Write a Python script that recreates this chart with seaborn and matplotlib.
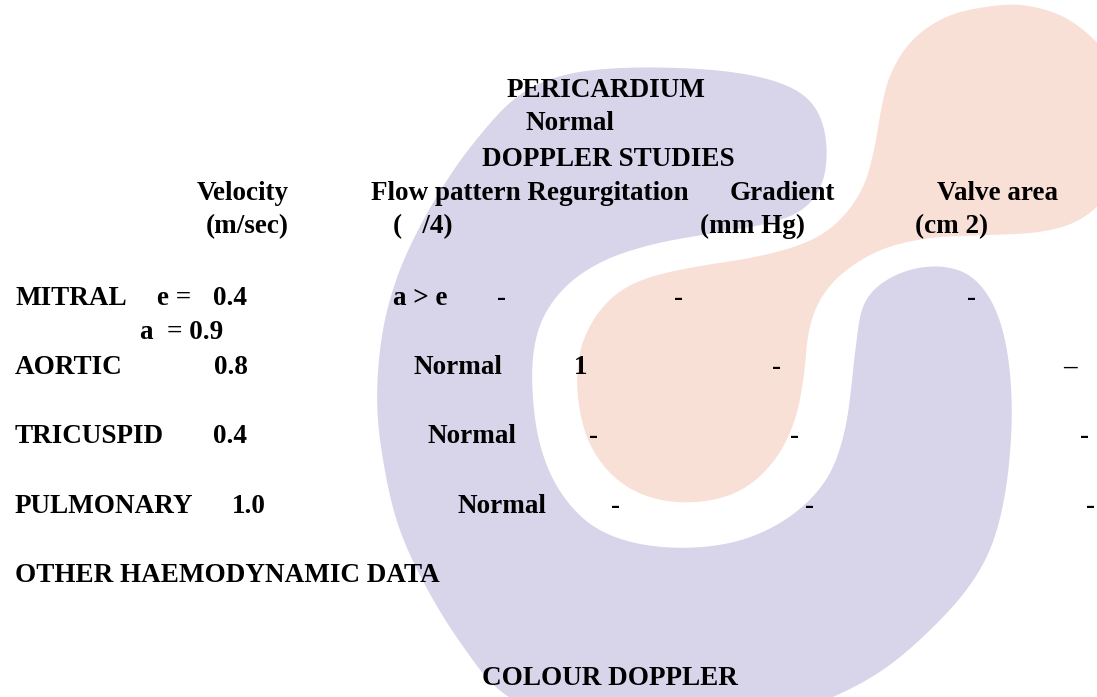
import numpy as np
import matplotlib
matplotlib.use("Agg")
import matplotlib.pyplot as plt
import seaborn as sns

# ---------------- data ----------------
headings = ["PERICARDIUM", "Normal", "DOPPLER STUDIES"]
col_headers = ["Velocity", "Flow pattern Regurgitation", "Gradient", "Valve area"]
col_units = ["(m/sec)", "(   /4)", "(mm Hg)", "(cm 2)"]
valves = ["MITRAL", "AORTIC", "TRICUSPID", "PULMONARY"]
velocity = ["0.4", "0.8", "0.4", "1.0"]
mitral_e_label = "e ="
mitral_a_line = "a  = 0.9"
flow_pattern = ["a > e", "Normal", "Normal", "Normal"]
regurgitation = ["-", "1", "-", "-"]
gradient = ["-", "-", "-", "-"]
valve_area = ["-", "\u2013", "-", "-"]
footer_sections = ["OTHER HAEMODYNAMIC DATA", "COLOUR DOPPLER"]

# ---------------- layout (pixels, y downward) ----------------
heading_xy = [(507, 97), (525, 130), (482, 166)]
header_xy = [(197, 200), (371, 200), (730, 200), (937, 200)]
unit_xy = [(206, 233), (393, 233), (700, 233), (915, 233)]
row_base = [305, 374, 443, 513]
valve_x = 15
velocity_x = [213, 214, 213, 232]
flow_x = [393, 414, 428, 458]
regurg_x = [497, 574, 589, 611]
gradient_x = [674, 772, 790, 805]
valve_area_x = [967, 1063, 1080, 1086]
e_label_x = 157
a_line_xy = (140, 339)
footer_xy = [(15, 582), (482, 685)]

# watermark outlines (decoration)
lavender_pts = [(933, 266), (967, 273), (990, 298), (1004, 335), (1011, 385), (1011, 440),
                (1004, 500), (990, 550), (965, 592), (925, 635), (880, 672), (826, 700),
                (760, 722), (660, 730), (570, 718), (505, 695), (462, 645), (425, 585),
                (398, 525), (383, 460), (377, 400), (382, 335), (396, 280), (417, 232),
                (442, 188), (472, 145), (515, 98), (560, 76), (620, 68), (700, 69),
                (760, 77), (800, 92), (820, 115), (827, 150), (822, 185), (803, 210),
                (770, 223), (733, 230), (690, 237), (650, 245), (605, 260), (568, 284),
                (543, 317), (533, 355), (533, 400), (540, 445), (557, 487), (588, 523),
                (630, 542), (683, 548), (735, 542), (777, 525), (810, 500), (832, 470),
                (845, 430), (851, 390), (856, 345), (865, 300), (895, 275)]
peach_pts = [(1000, 5), (950, 15), (912, 40), (890, 75), (881, 110), (874, 150),
             (862, 190), (835, 225), (800, 245), (750, 258), (700, 266), (650, 277),
             (617, 293), (593, 320), (579, 355), (578, 400), (590, 445), (617, 480),
             (655, 499), (700, 502), (742, 490), (775, 460), (795, 420), (804, 375),
             (808, 335), (818, 303), (840, 275), (880, 250), (930, 238), (990, 235),
             (1040, 232), (1080, 220), (1110, 190), (1125, 130), (1110, 60),
             (1070, 20), (1030, 6)]


def smooth_closed(pts, n=12, step=2.0, sigma=5.0):
    p = np.array(pts, dtype=float)
    m = len(p)
    out = []
    for i in range(m):
        p0, p1, p2, p3 = p[i - 1], p[i], p[(i + 1) % m], p[(i + 2) % m]
        for t in np.linspace(0, 1, n, endpoint=False):
            t2, t3 = t * t, t * t * t
            out.append(0.5 * ((2 * p1) + (-p0 + p2) * t +
                              (2 * p0 - 5 * p1 + 4 * p2 - p3) * t2 +
                              (-p0 + 3 * p1 - 3 * p2 + p3) * t3))
    c = np.array(out)
    c = np.vstack([c, c[:1]])
    seg = np.hypot(*np.diff(c, axis=0).T)
    s = np.concatenate([[0], np.cumsum(seg)])
    L = s[-1]
    su = np.arange(0, L, step)
    x = np.interp(su, s, c[:, 0])
    y = np.interp(su, s, c[:, 1])
    k = int(4 * sigma)
    w = np.exp(-0.5 * (np.arange(-k, k + 1) / sigma) ** 2)
    w /= w.sum()

    def circ(v):
        vv = np.concatenate([v[-k:], v, v[:k]])
        return np.convolve(vv, w, mode="valid")
    return np.column_stack([circ(x), circ(y)])


sns.set_theme(style="white")
plt.rcParams["font.family"] = ["Liberation Serif", "DejaVu Serif"]

W, H = 1097, 697
fig = plt.figure(figsize=(W / 100, H / 100), dpi=100)
ax = fig.add_axes([0, 0, 1, 1])
ax.set_xlim(0, W)
ax.set_ylim(H, 0)
ax.axis("off")

lav = smooth_closed(lavender_pts)
pea = smooth_closed(peach_pts)
ax.fill(lav[:, 0], lav[:, 1], color="#d8d4ea", lw=0, zorder=1)
ax.fill(pea[:, 0], pea[:, 1], color="#f9e0d6", lw=0, zorder=1)

fs = 19.5
kw = dict(fontsize=fs, fontweight="bold", color="black", ha="left", va="baseline", zorder=3)

for txt, (x, y) in zip(headings, heading_xy):
    ax.text(x, y, txt, **kw)
for txt, (x, y) in zip(col_headers, header_xy):
    ax.text(x, y, txt, **kw)
for txt, (x, y) in zip(col_units, unit_xy):
    ax.text(x, y, txt, **kw)

for i, v in enumerate(valves):
    y = row_base[i]
    ax.text(valve_x, y, v, **kw)
    ax.text(velocity_x[i], y, velocity[i], **kw)
    ax.text(flow_x[i], y, flow_pattern[i], **kw)
    ax.text(regurg_x[i], y, regurgitation[i], **kw)
    ax.text(gradient_x[i], y, gradient[i], **kw)
    ax.text(valve_area_x[i], y, valve_area[i], **kw)

ax.text(e_label_x, row_base[0], mitral_e_label, **kw)
ax.text(a_line_xy[0], a_line_xy[1], mitral_a_line, **kw)

for txt, (x, y) in zip(footer_sections, footer_xy):
    ax.text(x, y, txt, **kw)

fig.savefig("out.png", dpi=100, facecolor="white")
